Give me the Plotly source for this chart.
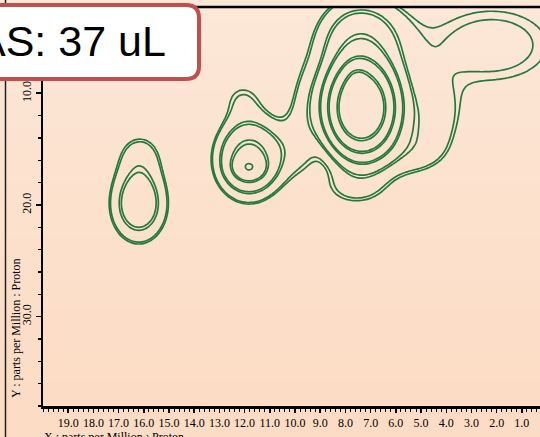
import numpy as np
import plotly.graph_objects as go

# ---- axis / tick data ----
x_range = [20.0, 0.28]
y_range = [38.0, 2.28]
x_tick_vals = [19.0, 18.0, 17.0, 16.0, 15.0, 14.0, 13.0, 12.0, 11.0, 10.0, 9.0, 8.0, 7.0, 6.0, 5.0, 4.0, 3.0, 2.0, 1.0]
x_tick_text = ["19.0", "18.0", "17.0", "16.0", "15.0", "14.0", "13.0", "12.0", "11.0", "10.0",
               "9.0", "8.0", "7.0", "6.0", "5.0", "4.0", "3.0", "2.0", "1.0"]
y_tick_vals = [10.0, 20.0, 30.0]
y_tick_text = ["10.0", "20.0", "30.0"]

# ---- peak components (ppm) ----
peak_names = ["A_core", "A_top", "B_base", "B_core", "B_up", "BC_bridge", "C_left",
              "C_core", "C_tip", "C_up", "C_base", "C_low", "C_sh2", "C_shoulder", "Ridge"]
peak_x  = [16.2, 16.15, 11.83, 11.83, 12.1, 10.0, 9.6, 7.37, 7.55, 7.45, 7.3, 7.6, 5.4, 4.6, 2.2]
peak_y  = [19.9, 15.3, 15.9, 16.7, 10.3, 14.8, 11.0, 11.35, 8.9, 5.3, 10.5, 18.5, 15.5, 12.5, 5.7]
peak_sx = [0.75, 0.75, 0.82, 0.4, 0.8, 0.7, 0.5, 0.75, 0.3, 1.1, 1.6, 1.2, 1.1, 0.9, 3.0]
peak_sy = [2.3, 1.7, 2.2, 0.7, 1.6, 2.2, 3.0, 2.3, 1.0, 2.5, 2.8, 1.6, 1.6, 2.2, 4.2]
peak_amp = [3.4, 1.1, 5.3, 3.3, 0.95, 0.9, 0.8, 34.0, 4.0, 3.2, 1.0, 1.2, 1.15, 1.15, 1.3]

# contour levels (pairs)
base_levels = [1.0, 2.0, 4.0, 8.0, 16.0]
pair_ratio = 1.12

title_text = "AS: 37 uL"
x_title = "X : parts per Million : Proton"
y_title = "Y : parts per Million : Proton"

# ---- grid ----
gx = np.arange(0.0, 20.01, 0.12)
gy = np.arange(1.0, 38.01, 0.25)
XX, YY = np.meshgrid(gx, gy)
Z = np.zeros_like(XX)
for px_, py_, sx_, sy_, a_ in zip(peak_x, peak_y, peak_sx, peak_sy, peak_amp):
    Z += a_ * np.exp(-((XX - px_) ** 2) / (2 * sx_ ** 2) - ((YY - py_) ** 2) / (2 * sy_ ** 2))
Z = np.maximum(Z, 1e-6)
L = np.log2(Z)

green = "#237a3c"
fig = go.Figure()
for off in [0.0, np.log2(pair_ratio)]:
    fig.add_trace(go.Contour(
        x=gx, y=gy, z=L - off,
        contours=dict(start=np.log2(base_levels[0]), end=np.log2(base_levels[-1]), size=1,
                      coloring="none"),
        line=dict(color=green, width=1.7, smoothing=0.6),
        showscale=False, hoverinfo="skip",
    ))

# ---- layout geometry ----
W, H = 540, 437
ml, mr, mt, mb = 43, 0, 7, 31
pw, ph = W - ml - mr, H - mt - mb

def px2paper_x(p):
    return (p - ml) / pw

def py2paper_y(p):
    return (H - mb - p) / ph

shapes = []
# background gradient bands
top_c = np.array([253, 231, 215])
bot_c = np.array([252, 220, 196])
nb = 24
for i in range(nb):
    t = i / (nb - 1)
    c = top_c + (bot_c - top_c) * t
    y0 = py2paper_y(i * H / nb)
    y1 = py2paper_y((i + 1) * H / nb + 1)
    shapes.append(dict(type="rect", xref="paper", yref="paper", x0=px2paper_x(-5), x1=px2paper_x(W + 5),
                       y0=y1, y1=y0, fillcolor="rgb(%d,%d,%d)" % tuple(c.astype(int)),
                       line=dict(width=0), layer="below"))
# left frame line
shapes.append(dict(type="line", xref="paper", yref="paper", x0=px2paper_x(5.5), x1=px2paper_x(5.5),
                   y0=py2paper_y(-5), y1=py2paper_y(H + 5), line=dict(color="#222", width=1.5), layer="above"))
# top frame line
shapes.append(dict(type="line", xref="paper", yref="paper", x0=0, x1=1, y0=1, y1=1,
                   line=dict(color="black", width=2.5), layer="above"))
# rounded label box
bx0, bx1, by0, by1, r = -14, 199, 5, 79, 13
X0, X1 = px2paper_x(bx0), px2paper_x(bx1)
Y0, Y1 = py2paper_y(by1), py2paper_y(by0)
rx, ry = r / pw, r / ph
path = (f"M {X0+rx},{Y1} L {X1-rx},{Y1} Q {X1},{Y1} {X1},{Y1-ry} L {X1},{Y0+ry} "
        f"Q {X1},{Y0} {X1-rx},{Y0} L {X0+rx},{Y0} Q {X0},{Y0} {X0},{Y0+ry} L {X0},{Y1-ry} "
        f"Q {X0},{Y1} {X0+rx},{Y1} Z")
shapes.append(dict(type="path", xref="paper", yref="paper", path=path, fillcolor="white",
                   line=dict(color="#c0504d", width=4), layer="above"))

serif = "Liberation Serif, Times New Roman, serif"
annotations = [
    dict(text=title_text, xref="paper", yref="paper", x=px2paper_x(168), y=py2paper_y(41),
         xanchor="right", yanchor="middle", showarrow=False,
         font=dict(family="Liberation Sans, Arial, sans-serif", size=43, color="black")),
    dict(text=y_title, xref="paper", yref="paper", x=px2paper_x(16), y=py2paper_y(328),
         xanchor="center", yanchor="middle", textangle=-90, showarrow=False,
         font=dict(family=serif, size=12, color="black")),
    dict(text=x_title, xref="paper", yref="paper", x=px2paper_x(42), y=py2paper_y(428),
         xanchor="left", yanchor="top", showarrow=False,
         font=dict(family=serif, size=12, color="black")),
    dict(text="0.0", xref="x", yref="paper", x=0.0, y=py2paper_y(410),
         xanchor="center", yanchor="top", showarrow=False,
         font=dict(family=serif, size=12, color="black")),
]

fig.update_layout(
    width=W, height=H,
    margin=dict(l=ml, r=mr, t=mt, b=mb, pad=0),
    paper_bgcolor="rgba(0,0,0,0)", plot_bgcolor="rgba(0,0,0,0)",
    showlegend=False,
    shapes=shapes, annotations=annotations,
    xaxis=dict(range=x_range, tickvals=x_tick_vals, ticktext=x_tick_text, ticks="outside", ticklen=4,
               tickwidth=1.5, tickcolor="black", showline=True, linecolor="black", linewidth=2.5,
               showgrid=False, zeroline=False, tickfont=dict(family=serif, size=12, color="black"),
               minor=dict(dtick=0.2, tick0=0, ticks="outside", ticklen=3, tickwidth=1, tickcolor="black"),
               ticklabelstandoff=0),
    yaxis=dict(range=y_range, tickvals=y_tick_vals, ticktext=y_tick_text, ticks="outside", ticklen=5,
               tickwidth=1.5, tickcolor="black", showline=True, linecolor="black", linewidth=2.5,
               showgrid=False, zeroline=False, tickangle=-90,
               tickfont=dict(family=serif, size=12, color="black"),
               minor=dict(dtick=2, tick0=0, ticks="outside", ticklen=3, tickwidth=1.5, tickcolor="black")),
)
fig.write_html("out.html", config={"displayModeBar": False, "staticPlot": True},
               post_script="document.body.style.margin='0';document.body.style.overflow='hidden';")
